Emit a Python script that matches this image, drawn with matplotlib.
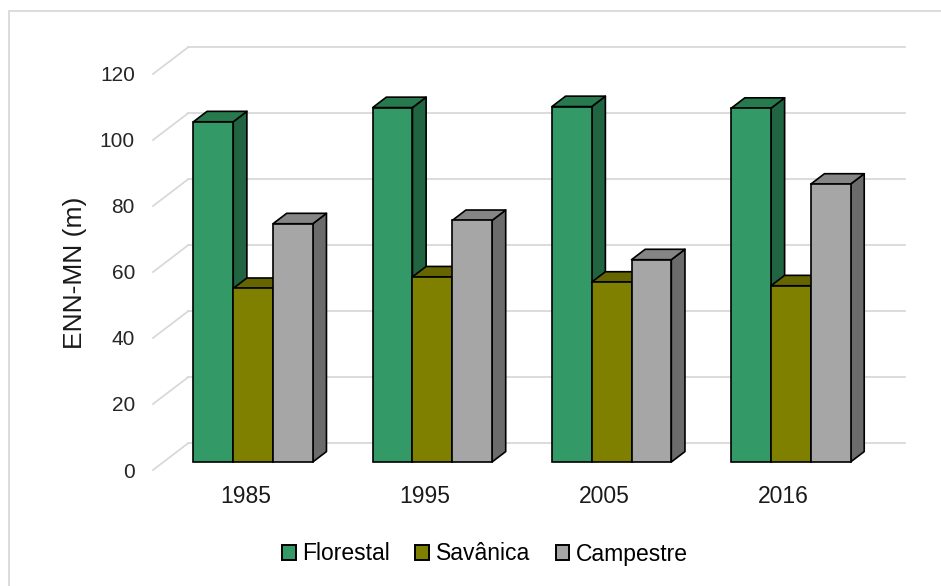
import matplotlib
matplotlib.use('Agg')
import matplotlib.pyplot as plt
from matplotlib.patches import Polygon, Patch, Rectangle

# ---- data ----
years = ['1985', '1995', '2005', '2016']
series = ['Florestal', 'Savânica', 'Campestre']
florestal = [103.1, 107.4, 107.7, 107.2]
savanica = [52.6, 56.1, 54.5, 53.4]
campestre = [72.2, 73.2, 61.3, 84.2]
yticks = [0, 20, 40, 60, 80, 100, 120]
ylabel = 'ENN-MN (m)'

values = [florestal, savanica, campestre]
front_colors = ['#339966', '#808000', '#A6A6A6']
side_colors = ['#216441', '#5E5E00', '#6B6B6B']
top_colors = ['#277A4E', '#666600', '#858585']

plt.rcParams['font.family'] = ['Liberation Sans', 'DejaVu Sans']

W, H = 941, 586
fig = plt.figure(figsize=(W / 100, H / 100), dpi=100)

# 3D-like depth offsets (in data units)
DX = 35 / 179.25          # full depth in category units
DY = 8.09                 # full depth in value units
f0, f1 = 0.30, 0.69       # bar front / back depth fractions
ymax = yticks[-1]
n = len(years)

ax = fig.add_axes([153 / W, (H - 470) / H, 752 / W, 422.7 / H])
ax.set_xlim(0, n + DX)
ax.set_ylim(0, ymax + DY)
for s in ax.spines.values():
    s.set_visible(False)

grid_c = '#D9D9D9'
for v in yticks:
    ax.plot([0, DX], [v, v + DY], color=grid_c, lw=1.3, zorder=1, clip_on=False)
    ax.plot([DX, n + DX], [v + DY, v + DY], color=grid_c, lw=1.3, zorder=1, clip_on=False)

bw = 0.222
margin = (1 - 3 * bw) / 2
ddx = (f1 - f0) * DX
ddy = (f1 - f0) * DY
base = f0 * DY
z = 3
for i in range(n):
    for j in range(3):
        v = values[j][i]
        x0 = i + margin + j * bw + f0 * DX
        side = Polygon([(x0 + bw, base), (x0 + bw + ddx, base + ddy),
                        (x0 + bw + ddx, base + v + ddy), (x0 + bw, base + v)],
                       closed=True, facecolor=side_colors[j], edgecolor='black',
                       lw=1.2, zorder=z, joinstyle='round')
        top = Polygon([(x0, base + v), (x0 + bw, base + v),
                       (x0 + bw + ddx, base + v + ddy), (x0 + ddx, base + v + ddy)],
                      closed=True, facecolor=top_colors[j], edgecolor='black',
                      lw=1.2, zorder=z + 1, joinstyle='round')
        ax.add_patch(side)
        ax.add_patch(top)
        ax.bar(x0, v, width=bw, bottom=base, align='edge', color=front_colors[j],
               edgecolor='black', linewidth=1.2, zorder=z + 2)
        z += 3

ax.set_yticks(yticks)
ax.set_yticklabels([str(t) for t in yticks], fontsize=15, color='#262626')
ax.set_xticks([i + 0.515 for i in range(n)])
ax.set_xticklabels(years, fontsize=16.5, color='#1a1a1a')
ax.tick_params(axis='y', length=0, pad=13)
ax.tick_params(axis='x', length=0, pad=11)

fig.text(75 / W, 1 - 273 / H, ylabel, rotation=90, ha='center', va='center',
         fontsize=19, color='#1a1a1a')

handles = [Patch(facecolor=front_colors[j], edgecolor='black', lw=1.4, label=series[j])
           for j in range(3)]
fig.legend(handles=handles, loc='center', bbox_to_anchor=(485 / W, 1 - 554 / H), ncol=3,
           frameon=False, fontsize=16.5, handlelength=0.6, handleheight=0.6,
           handletextpad=0.3, columnspacing=1.1)

fig.add_artist(Rectangle((9 / W, -0.1), 1.2, (H - 11) / H + 0.1, transform=fig.transFigure,
                         fill=False, edgecolor='#D9D9D9', lw=1.3))

fig.savefig('out.png', dpi=100)
